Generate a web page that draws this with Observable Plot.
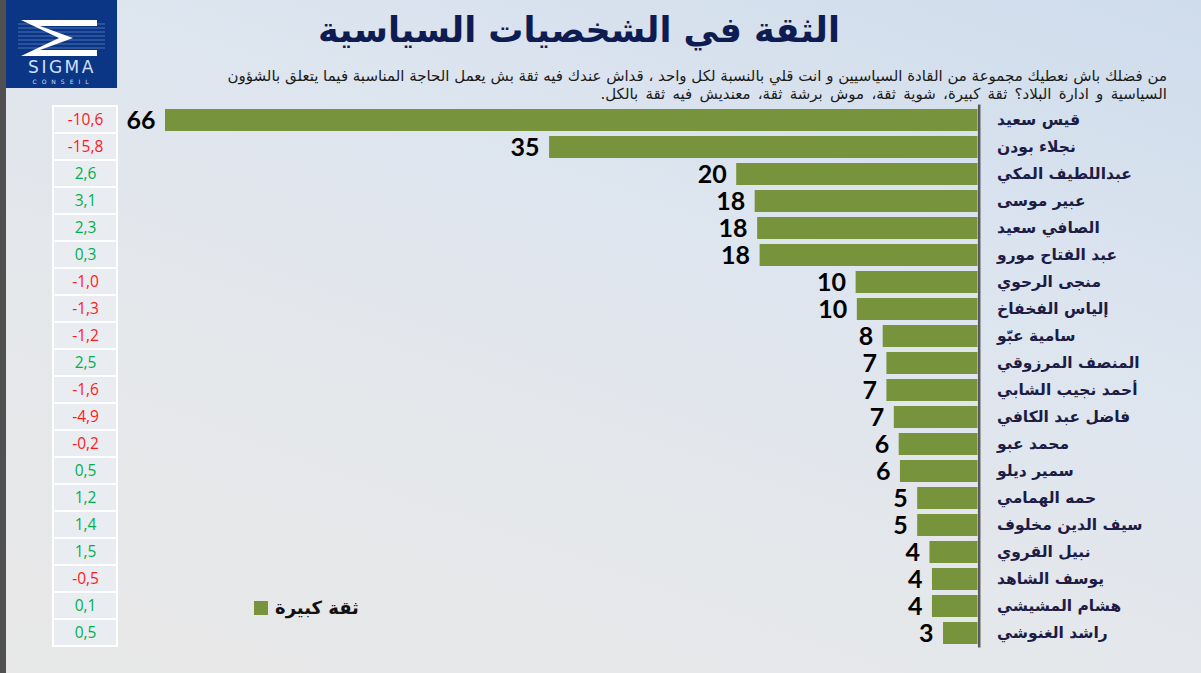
<!DOCTYPE html>
<html>
<head>
<meta charset="utf-8">
<script src="https://cdn.jsdelivr.net/npm/d3@7"></script>
<script src="https://cdn.jsdelivr.net/npm/@observablehq/plot@0.6"></script>
<style>
  html, body { margin: 0; padding: 0; }
  #page {
    position: relative; width: 1201px; height: 673px; overflow: hidden;
    background: linear-gradient(200deg, #cfdcec 0%, #dde5ef 35%, #e4e7eb 60%, #e8e8e8 100%);
    font-family: "DejaVu Sans", sans-serif;
  }
  #strip { position: absolute; left: 0; top: 0; width: 6px; height: 673px; background: #505050; }
  #logo { position: absolute; left: 6px; top: 0; width: 111px; height: 88px; background: #0b3585; }
  #title {
    position: absolute; left: 0; width: 1158px; top: 10px; text-align: center; direction: rtl;
    font-size: 35px; font-weight: bold; color: #0e1c52;
  }
  .sub {
    position: absolute; right: 34px; direction: rtl; white-space: nowrap;
    font-size: 15px; color: #1a1a1a;
  }
  #legend {
    position: absolute; left: 254px; top: 597px; display: flex; align-items: center; gap: 7px;
    font-weight: bold; font-size: 18px; color: #111;
  }
  #legend .sw { width: 14px; height: 14px; background: #77933c; }
</style>
</head>
<body>
<div id="page">
  <div id="strip"></div>
  <div id="logo">
    <svg width="111" height="88" viewBox="0 0 111 88">
      <g stroke="#7fa3d6" stroke-width="0.8" opacity="0.7">
        <line x1="12" y1="24" x2="99" y2="24"/><line x1="12" y1="28" x2="99" y2="28"/>
        <line x1="12" y1="32" x2="99" y2="32"/><line x1="12" y1="36" x2="99" y2="36"/>
        <line x1="12" y1="40" x2="99" y2="40"/><line x1="12" y1="44" x2="99" y2="44"/>
        <line x1="12" y1="48" x2="99" y2="48"/>
      </g>
      <path d="M15 20 H91 V26 H34 L67 38 L34 50 H91 V56 H15 L53 38 Z" fill="#ffffff"/>
      <text x="56" y="73" text-anchor="middle" fill="#cfe0f5" font-family="DejaVu Sans" font-size="17" letter-spacing="2.5">SIGMA</text>
      <text x="57" y="84" text-anchor="middle" fill="#cfe0f5" font-family="DejaVu Sans" font-size="6" letter-spacing="5">CONSEIL</text>
    </svg>
  </div>
  <div id="title">الثقة في الشخصيات السياسية</div>
  <div class="sub" style="top:67px">من فضلك باش نعطيك مجموعة من القادة السياسيين و انت قلي بالنسبة لكل واحد ، قداش عندك فيه ثقة بش يعمل الحاجة المناسبة فيما يتعلق بالشؤون</div>
  <div class="sub" style="top:85px; word-spacing:2.5px">السياسية و ادارة البلاد؟ ثقة كبيرة، شوية ثقة، موش برشة ثقة، معنديش فيه ثقة بالكل.</div>
</div>
<script>
// ---- data ----
const names = ["قيس سعيد","نجلاء بودن","عبداللطيف المكي","عبير موسى","الصافي سعيد","عبد الفتاح مورو","منجى الرحوي","إلياس الفخفاخ","سامية عبّو","المنصف المرزوقي","أحمد نجيب الشابي","فاضل عبد الكافي","محمد عبو","سمير ديلو","حمه الهمامي","سيف الدين مخلوف","نبيل القروي","يوسف الشاهد","هشام المشيشي","راشد الغنوشي"];
const trust = [66, 34.8, 19.6, 18.1, 17.9, 17.7, 9.9, 9.8, 7.7, 7.4, 7.4, 6.8, 6.4, 6.3, 4.9, 4.9, 3.9, 3.7, 3.7, 2.8];
const change = [-10.6, -15.8, 2.6, 3.1, 2.3, 0.3, -1.0, -1.3, -1.2, 2.5, -1.6, -4.9, -0.2, 0.5, 1.2, 1.4, 1.5, -0.5, 0.1, 0.5];
const seriesLabel = "ثقة كبيرة";

const rows = names.map((name, i) => ({name, trust: trust[i], change: change[i]}));
const fmt = v => v.toFixed(1).replace(".", ",");
const marginTop = 104.4, marginBottom = 673 - 647.6;

const main = Plot.plot({
  width: 1201, height: 673,
  marginTop, marginBottom, marginLeft: 165, marginRight: 223.5,
  style: {background: "transparent", overflow: "visible", position: "absolute", top: "0px", left: "0px"},
  x: {domain: [0, 66], reverse: true, axis: null},
  y: {domain: names, paddingInner: 0.2, paddingOuter: 0.1, axis: null},
  marks: [
    Plot.barX(rows, {x: "trust", y: "name", fill: "#77933c"}),
    Plot.ruleX([0], {stroke: "#5a5a5a", strokeWidth: 2.5, dx: 1.2}),
    Plot.text(rows, {x: "trust", y: "name", text: d => String(Math.round(d.trust)), textAnchor: "end", dx: -10,
      fontSize: 25, fontWeight: "bold", fontFamily: "Lato, 'Open Sans', sans-serif", fill: "#000"}),
    Plot.text(rows, {x: 0, y: "name", text: "name", textAnchor: "start", dx: 19,
      fontSize: 15.5, fontWeight: "bold", fontFamily: "DejaVu Sans", fill: "#1c1c45"})
  ]
});

const table = Plot.plot({
  width: 64, height: 673,
  marginTop, marginBottom, marginLeft: 0, marginRight: 0,
  style: {background: "transparent", overflow: "visible", position: "absolute", top: "0px", left: "53px"},
  x: {axis: null, padding: 0},
  y: {domain: names, padding: 0, axis: null},
  marks: [
    Plot.cell(rows, {x: () => "Δ", y: "name", fill: "#e9ecf0", stroke: "#ffffff", strokeWidth: 2}),
    Plot.text(rows, {x: () => "Δ", y: "name", text: d => fmt(d.change),
      fill: d => d.change < 0 ? "#ff1a1a" : "#00b050", fontSize: 15.5, fontFamily: "'Open Sans', sans-serif"})
  ]
});

const page = document.getElementById("page");
page.appendChild(main);
page.appendChild(table);

const legend = document.createElement("div");
legend.id = "legend";
legend.innerHTML = `<div class="sw"></div><span>${seriesLabel}</span>`;
page.appendChild(legend);
</script>
</body>
</html>
